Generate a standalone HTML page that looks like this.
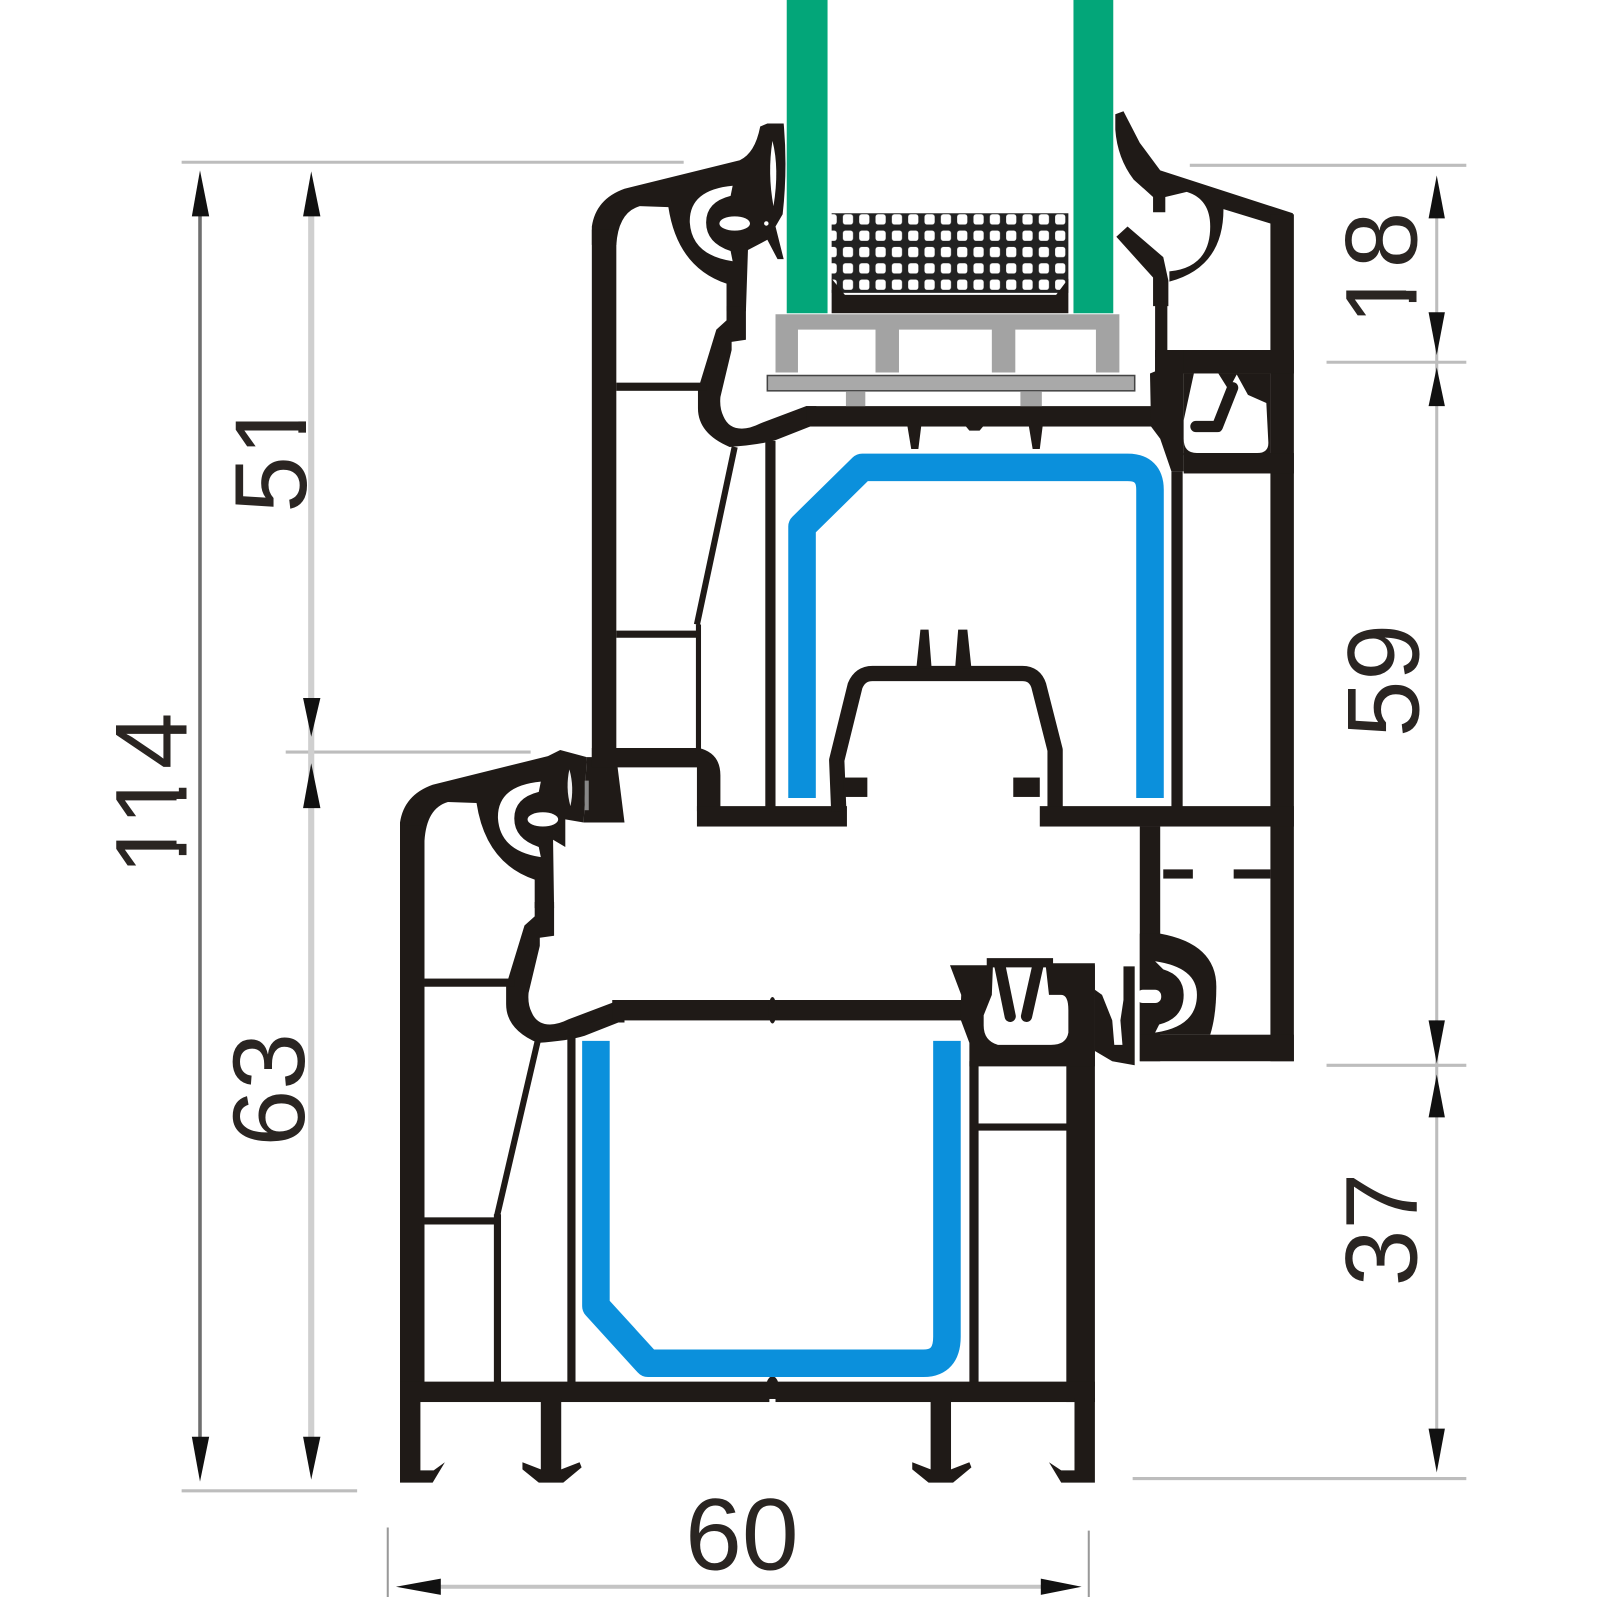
<!DOCTYPE html>
<html><head><meta charset="utf-8"><style>html,body{margin:0;padding:0;background:#fff}svg{display:block}text{font-family:"Liberation Sans",sans-serif;font-size:100px;fill:#2a2522;text-anchor:middle}</style></head>
<body>
<svg width="1600" height="1600" viewBox="0 0 1568 1568" xmlns="http://www.w3.org/2000/svg">
<defs>
<pattern id="mesh" width="16" height="16" patternUnits="userSpaceOnUse" x="825" y="209"><rect width="16" height="16" fill="#222"/><rect x="1" y="1" width="10" height="10" rx="2.5" fill="#fff"/></pattern>
<g id="prof">
<path fill="#1f1a17" d="M712,300 L731,300 L731,333 L717,335 L717,343 L706,389 Q705,400 709,408 Q714,420 727,420 Q735,420 745,415 L790,398 L800,398 L800,418 L794,418 L761,431 Q745,436 715,438 Q684,425 684,400 L684,382 L702,323 L712,314 Z"/>
<rect x="604" y="375" width="88" height="8" fill="#1f1a17"/>
<path fill="#fff" d="M718,182 Q675,186 676,218 Q678,250 718,256 L716,246 Q692,238 692,218 Q692,198 716,192 Z"/>
<ellipse cx="720" cy="219" rx="15" ry="7" fill="#fff"/>
</g>
</defs>
<rect width="1568" height="1568" fill="#fff"/>

<!-- dimension lines -->
<g fill="none">
<path d="M178,159H670M280,737H520M178,1461H350M1166,162H1437M1300,355H1437M1300,1044H1437M1110,1449H1437" stroke="#bdbdbd" stroke-width="3"/>
<path d="M305,200V1420" stroke="#cfcfcf" stroke-width="6"/>
<path d="M1408,200V1420" stroke="#bdbdbd" stroke-width="3"/>
<path d="M196,200V1420" stroke="#6e6e6e" stroke-width="3.5"/>
<path d="M380,1497V1565M1067,1500V1565" stroke="#999" stroke-width="2"/>
<path d="M420,1555H1030" stroke="#c4c4c4" stroke-width="4"/>
</g>
<g fill="#111">
<path d="M196,167L188,212H205Z"/><path d="M196,1452L188,1408H205Z"/>
<path d="M305,168L297,212H314Z"/><path d="M305,722L297,684H314Z"/><path d="M305,748L297,792H314Z"/><path d="M305,1450L297,1408H314Z"/>
<path d="M1408,172L1400,214H1416Z"/><path d="M1408,348L1400,306H1416Z"/><path d="M1408,360L1400,398H1416Z"/><path d="M1408,1042L1400,1000H1416Z"/><path d="M1408,1053L1400,1095H1416Z"/><path d="M1408,1443L1400,1400H1416Z"/>
<path d="M388,1555L432,1547V1563Z"/><path d="M1060,1555L1020,1547V1563Z"/>
</g>
<text transform="translate(183,778) rotate(-90)">114</text>
<text transform="translate(300,447) rotate(-90)">51</text>
<text transform="translate(298,1068) rotate(-90)">63</text>
<text transform="translate(1388,263) rotate(-90)">18</text>
<text transform="translate(1390,667) rotate(-90)">59</text>
<text transform="translate(1388,1205) rotate(-90)">37</text>
<text x="727" y="1538">60</text>
<!-- trim the foot serifs of the digit 1 to match the reference's plain numeral -->
<g fill="#fff">
<rect x="173" y="838" width="11" height="22"/>
<rect x="173" y="783" width="11" height="44"/>
<rect x="173" y="752" width="11" height="20"/>
<rect x="290" y="392" width="11" height="21"/><rect x="290" y="424" width="11" height="20"/>
<rect x="1378" y="264" width="11" height="21"/><rect x="1378" y="296" width="11" height="20"/>
</g>

<g fill="#1f1a17">
<!-- upper left profile with ear -->
<path d="M580,240 L580,222 Q584,195 612,185 L725,157 Q740,150 745,124 L752,121 L768,121 Q772,165 767,210 L760,222 L768,254 L762,254 L752,235 L733,245 L731,305 L712,305 L712,278 Q664,262 655,203 L627,202 Q606,208 604,240 Z"/>
<!-- lower left profile -->
<path d="M392,824 L392,806 Q396,779 424,769 L537,741 L549,735 L575,742 L572,806 L554,803 L554,830 L542,823 L543,890 L524,890 L524,862 Q476,846 467,787 L439,786 Q418,792 416,824 Z"/>
</g>
<use href="#prof"/>
<use href="#prof" transform="translate(-188,584)"/>
<path d="M757,138 Q764,165 758,202 Q752,170 757,138 Z" fill="#fff"/>
<circle cx="751" cy="219" r="2.2" fill="#fff"/>
<path d="M558,754 Q563,772 559,790 Q554,772 558,754 Z" fill="#eee"/>

<g fill="#1f1a17">
<!-- sash -->
<rect x="604" y="618" width="80" height="7"/>
<path d="M720,438 L683,612" fill="none" stroke="#1f1a17" stroke-width="6"/>
<rect x="580" y="225" width="24" height="525"/>
<path d="M575,742 L604,742 L612,806 L572,806 Z"/>
<rect x="682" y="612" width="5" height="125"/>
<path d="M580,733 L685,733 Q706,738 706,760 V795 H683 V752 H580 Z"/>
<rect x="683" y="790" width="147" height="20"/>
<rect x="750" y="432" width="10" height="360"/>
<rect x="790" y="398" width="345" height="20"/>
<path d="M889,416H903L900,440H893ZM1008,416H1022L1019,440H1012ZM945,416H965L960,422H950Z"/>
<!-- bump -->
<path d="M822,795 L820,745 L838,672 Q843,660 855,660 L1002,660 Q1014,660 1018,672 L1034,735 L1034,795" fill="none" stroke="#1f1a17" stroke-width="15" stroke-linejoin="round"/>
<rect x="827" y="762" width="23" height="19"/>
<rect x="993" y="762" width="26" height="19"/>
<path d="M898,655L902,617H910L913,655ZM936,655L939,617H948L952,655Z"/>
<!-- right swoosh + ring -->
<path d="M1093,112 L1101,109 L1117,140 L1137,167 L1267,209 L1267,240 L1245,219 L1199,205 Q1199,262 1146,276 L1146,266 Q1186,262 1186,222 Q1186,195 1163,188 L1142,193 L1142,208 L1130,208 L1130,193 L1111,176 Q1095,155 1093,127 Z"/>
<path d="M1094,232 L1105,222 L1140,252 L1145,275 L1145,300 L1130,300 L1130,272 Z"/>
<rect x="1245" y="210" width="23" height="830"/>
<rect x="1132" y="295" width="12" height="55"/>
<rect x="1132" y="343" width="136" height="23"/>
<rect x="1160" y="366" width="85" height="80"/>
<path d="M1132,343 L1160,343 L1160,462 L1148,462 L1137,430 L1128,418 L1127,366 L1132,364 Z"/>
<rect x="1160" y="444" width="108" height="20"/>
<rect x="1148" y="462" width="11" height="335"/>
<rect x="1019" y="790" width="249" height="20"/>
<rect x="1117" y="810" width="20" height="230"/>
<rect x="1140" y="852" width="29" height="9"/>
<rect x="1209" y="852" width="36" height="9"/>
<path d="M1117,915 L1137,915 Q1192,925 1192,967 Q1192,995 1186,1014 L1117,1014 Z"/>
<rect x="1117" y="1014" width="151" height="26"/>
<path d="M1073,970 L1080,975 L1090,1000 L1092,1024 L1100,1024 L1098,1000 L1101,980 L1101,947 L1112,947 L1112,1044 L1090,1040 L1073,1030 Z"/>
<!-- lower frame -->
<rect x="392" y="809" width="24" height="560"/>
<rect x="600" y="980" width="352" height="20"/>
<rect x="416" y="1193" width="71" height="7"/>
<path d="M527,1020 L487,1192" fill="none" stroke="#1f1a17" stroke-width="6"/>
<rect x="484" y="1190" width="7" height="170"/>
<rect x="556" y="1015" width="8" height="345"/>
<rect x="950" y="1040" width="9" height="320"/>
<rect x="958" y="1101" width="92" height="7"/>
<rect x="1045" y="946" width="28" height="428"/>
<path d="M931,946 L967,946 L967,939 L1032,939 L1032,944 L1073,944 L1073,1045 L950,1045 L950,1022 L941,998 L942,975 Z"/>
<rect x="392" y="1354" width="681" height="20"/>
<ellipse cx="757" cy="990" rx="4" ry="13"/>
<ellipse cx="757" cy="1358" rx="6" ry="9"/>
<path d="M392,1370 L412,1370 L412,1441 L425,1441 L436,1433 L424,1453 L392,1453 Z"/>
<path d="M1073,1370 L1053,1370 L1053,1441 L1040,1441 L1028,1433 L1040,1453 L1073,1453 Z"/>
<path d="M512,1433 L530,1440 L530,1370 L550,1370 L550,1440 L568,1433 L570,1438 L552,1453 L528,1453 L512,1440 Z"/>
<path transform="translate(382,0)" d="M512,1433 L530,1440 L530,1370 L550,1370 L550,1440 L568,1433 L570,1438 L552,1453 L528,1453 L512,1440 Z"/>
</g>
<rect x="573" y="765" width="4" height="29" fill="#888"/>
<rect x="754" y="1371" width="6" height="5" fill="#fff"/>

<!-- white details -->
<g fill="#fff">
<path d="M1170,366 L1194,366 L1204,382 L1212,367 L1223,387 L1241,395 L1243,434 Q1243,444 1232,444 L1173,444 Q1160,444 1160,430 L1160,412 Z"/>
<path d="M1132,942 Q1173,948 1173,975 Q1173,1006 1132,1012 L1136,1004 Q1160,998 1160,975 Q1160,956 1140,950 Z"/>
<rect x="1114" y="970" width="24" height="13" rx="6"/>
<path d="M973,948 H1025 L1028,975 L1040,975 Q1047,975 1047,990 V1012 Q1045,1024 1030,1024 H978 Q964,1020 964,1005 L964,995 L972,975 Z"/>
</g>
<g fill="none" stroke="#1f1a17">
<path d="M1208,380 L1193,418 L1172,418" stroke-width="11" stroke-linecap="round" stroke-linejoin="round"/>
<path d="M980,947 L990,996" stroke-width="11" stroke-linecap="round"/>
<path d="M1017,947 L1006,996" stroke-width="11" stroke-linecap="round"/>
</g>

<!-- blue reinforcement -->
<g fill="none" stroke="#0b90dc" stroke-linejoin="round">
<path d="M786,782 V516 L845,458 H1105 Q1127,458 1127,480 V782" stroke-width="27"/>
<path d="M584,1020 V1280 L635,1336 H905 Q928,1336 928,1310 V1020" stroke-width="27"/>
</g>

<!-- glass -->
<rect x="771" y="0" width="40" height="307" fill="#03a679"/>
<rect x="1052" y="0" width="39" height="307" fill="#03a679"/>
<rect x="815" y="209" width="232" height="78" fill="url(#mesh)"/>
<path d="M815,273 L828,289 H1035 L1047,273 V307 H815 Z" fill="#1f1a17"/>

<!-- grey spacer -->
<path fill-rule="evenodd" fill="#a3a3a3" d="M760,308 H1097 V365 H760 Z M782,323 V365 H858 V323 Z M881,323 V365 H972 V323 Z M995,323 V365 H1074 V323 Z"/>
<rect x="752" y="368" width="360" height="15" fill="#a9a9a9" stroke="#444" stroke-width="1.5"/>
<rect x="829" y="384" width="19" height="14" fill="#a3a3a3"/>
<rect x="1000" y="384" width="21" height="14" fill="#a3a3a3"/>
</svg>
</body></html>
